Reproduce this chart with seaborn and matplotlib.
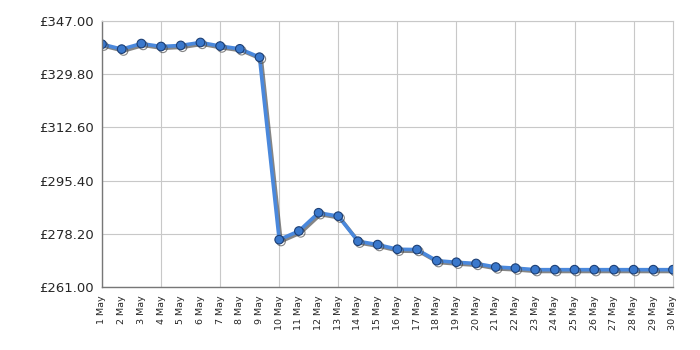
import matplotlib
matplotlib.use("Agg")
import matplotlib.pyplot as plt
import matplotlib.patheffects as pe
import seaborn as sns
import pandas as pd

days = list(range(1, 31))
labels = [f"{d} May" for d in days]
prices = [339.5, 337.9, 339.7, 338.75, 339.1, 340.05, 338.9, 338.0, 335.3,
          276.3, 279.1, 285.0, 283.9, 275.8, 274.7, 273.2, 273.1, 269.5,
          269.0, 268.6, 267.45, 267.1, 266.6, 266.6, 266.6, 266.6, 266.6,
          266.6, 266.6, 266.6]
yticks = [261.0, 278.2, 295.4, 312.6, 329.8, 347.0]

df = pd.DataFrame({"day": days, "price": prices})

sns.set_style("white")
plt.rcParams['font.family'] = ['DejaVu Sans']

fig = plt.figure(figsize=(7, 3.5), dpi=100)
ax = fig.add_axes([0.1457, 0.18, 0.8157, 0.76])

sns.lineplot(data=df, x="day", y="price", ax=ax, color="#4a88dc", linewidth=2.6,
             marker="o", markersize=6.2, markerfacecolor="#3a78cc",
             markeredgecolor="#1c3f75", markeredgewidth=0.8,
             path_effects=[pe.SimpleLineShadow(offset=(1.3, -1.3), shadow_color="#444444", alpha=0.65),
                           pe.Normal()])

ax.set_xlim(days[0], days[-1])
ax.set_ylim(yticks[0], yticks[-1])
ax.set_yticks(yticks)
ax.set_yticklabels([f"£{v:.2f}" for v in yticks], fontsize=9.5)

major = [d for d in days if (d - 1) % 3 == 0]
minor = [d for d in days if (d - 1) % 3 != 0]
ax.set_xticks(major, labels=[labels[d - 1] for d in major])
ax.set_xticks(minor, labels=[labels[d - 1] for d in minor], minor=True)
for lab in ax.get_xticklabels(which="both"):
    lab.set_rotation(90)
    lab.set_fontsize(6.8)
ax.tick_params(axis="x", which="major", length=4, color="#555555", pad=2)
ax.tick_params(axis="x", which="minor", length=0, pad=6)
ax.tick_params(axis="y", length=4, color="#555555", pad=2)

ax.grid(True, which="major", color="#c8c8c8", linewidth=0.8)
ax.set_axisbelow(True)
for s in ["left", "bottom"]:
    ax.spines[s].set_color("#777777")
    ax.spines[s].set_linewidth(1)
for s in ["top", "right"]:
    ax.spines[s].set_color("#c8c8c8")
    ax.spines[s].set_linewidth(0.8)
ax.set_xlabel("")
ax.set_ylabel("")

fig.savefig("out.png", dpi=100)
